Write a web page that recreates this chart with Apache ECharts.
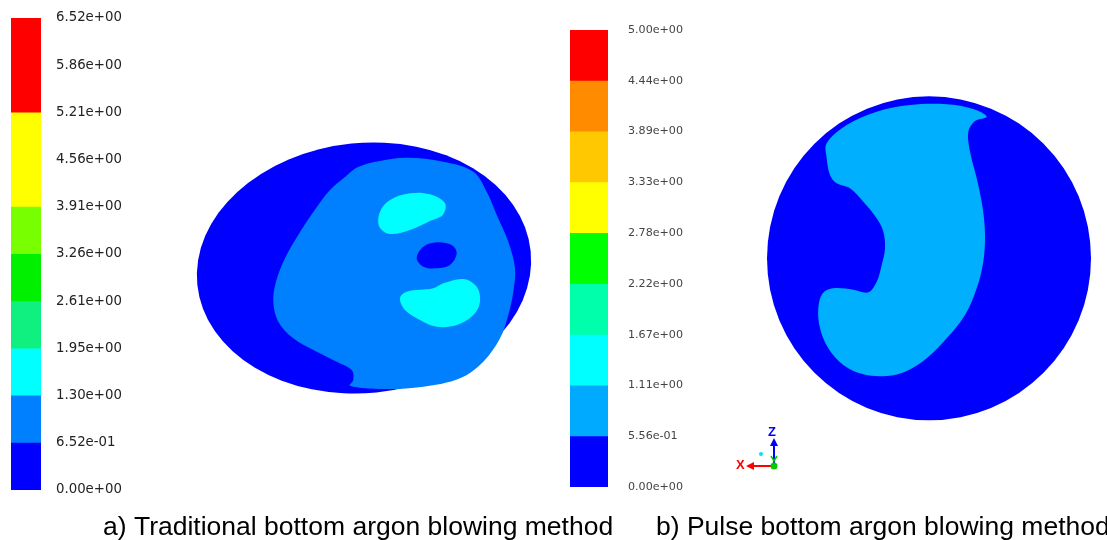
<!DOCTYPE html>
<html>
<head>
<meta charset="utf-8">
<script src="https://cdn.jsdelivr.net/npm/echarts@6/dist/echarts.min.js"></script>
<style>
html, body { margin: 0; padding: 0; background: #fff; }
#main { width: 1107px; height: 540px; }
</style>
</head>
<body>
<div id="main"></div>
<script>
// 左侧色标 (传统底吹)
var leftTickLabels = ['0.00e+00', '6.52e-01', '1.30e+00', '1.95e+00', '2.61e+00', '3.26e+00',
    '3.91e+00', '4.56e+00', '5.21e+00', '5.86e+00', '6.52e+00'];
var leftMax = 6.52;
var leftBandColors = ['#0000ff', '#0080ff', '#00ffff', '#10f080', '#00f000', '#78ff00',
    '#ffff00', '#ffff00', '#ff0000', '#ff0000'];

// 右侧色标 (脉冲底吹)
var rightTickLabels = ['0.00e+00', '5.56e-01', '1.11e+00', '1.67e+00', '2.22e+00', '2.78e+00',
    '3.33e+00', '3.89e+00', '4.44e+00', '5.00e+00'];
var rightMax = 5.0;
var rightBandColors = ['#0000ff', '#00aaff', '#00ffff', '#00ffaa', '#00ff00', '#ffff00',
    '#ffc800', '#ff8c00', '#ff0000'];

// 云图轮廓, 坐标
var leftOuter = [364, 268, 167.5, 125, 0.1];   // 中心x, 中心y, 半轴x, 半轴y, 倾角
var leftMid = [[330, 190], [345, 177], [358, 167], [380, 161], [406.7, 157.7], [443.3, 161.7],
    [473.3, 171.7], [486.7, 191.7], [496.7, 215], [508.3, 241.7], [515, 268.3], [513.3, 291.7],
    [508.3, 315], [500, 338.3], [483.3, 361.7], [460, 378.3], [423.3, 386.7], [383.3, 389],
    [350, 385.7], [353.3, 380], [351.7, 370], [336.7, 361.7], [316.7, 351.7], [293.3, 338.3],
    [278.3, 321.7], [273.3, 301.7], [276, 281.7], [285, 258.3], [297, 237], [313.3, 212]];
var leftSpot1 = [[380, 211.7], [390, 200], [410, 193.3], [430, 194.3], [445, 203.3], [442.7, 215],
    [430, 221], [410, 230], [390, 234], [379.3, 226.7]];
var leftSpot2 = [[400, 298.3], [406.7, 291.7], [433.3, 288.3], [443.3, 283.3], [463.3, 279],
    [476.7, 286.7], [480, 301.7], [473.3, 315], [456.7, 325], [436.7, 326.7], [420, 320], [405, 310]];
var leftHole = [[416.7, 258.3], [423.3, 246.7], [436.7, 242.3], [451.7, 245], [456.7, 253.3],
    [450, 265], [436.7, 268.3], [423.3, 266.7]];

var rightOuter = [929, 258.3, 162, 162, 0];
var rightMid = [[826.7, 143.3], [846.7, 125], [876.7, 111.7], [910, 105], [946.7, 104.3],
    [973.3, 109], [986.7, 116.7], [975, 121], [968.3, 131.7], [970, 151.7], [976.7, 178.3],
    [982.7, 208.3], [985, 235], [983.3, 261.7], [976.7, 288.3], [965, 315], [946.7, 338.3],
    [926.7, 358.3], [906.7, 371], [886.7, 376], [863.3, 374.3], [843.3, 365], [828.3, 348.3],
    [820, 328.3], [818.3, 308.3], [822.7, 293.3], [833.3, 288.3], [853.3, 289.7], [868.3, 292.3],
    [876.7, 281.7], [881.7, 265], [885, 248.3], [883.3, 231.7], [876.7, 218.3], [863.3, 201.7],
    [850, 188.3], [836.7, 183.3], [830, 175], [826.7, 158.3]];

var myChart = echarts.init(document.getElementById('main'));

var labelFont = '"DejaVu Sans", sans-serif';
var captionFont = 'Arial, "Liberation Sans", sans-serif';

// 色标: 每个色带画成从0到其上界的柱, 高的在下层, 避免接缝
function bandSeries(colors, max, idx) {
    var step = max / colors.length;
    return colors.map(function (c, i) {
        return {
            type: 'bar', xAxisIndex: idx, yAxisIndex: idx,
            data: [step * (i + 1)], barWidth: '100%', barGap: '-100%', silent: true,
            itemStyle: { color: c }
        };
    }).reverse();
}

function ellipseSeries(idx, e, color) {
    return {
        type: 'custom', xAxisIndex: idx, yAxisIndex: idx, silent: true,
        data: [[e[0], e[1]]],
        renderItem: function (params, api) {
            var c = api.coord([e[0], e[1]]);
            var s = api.size([e[2], e[3]]);
            return {
                type: 'circle', x: c[0], y: c[1], scaleX: s[0], scaleY: s[1], rotation: e[4],
                shape: { cx: 0, cy: 0, r: 1 }, style: { fill: color }
            };
        }
    };
}

function polySeries(idx, pts, color) {
    return {
        type: 'custom', xAxisIndex: idx, yAxisIndex: idx, silent: true,
        data: pts,
        renderItem: function (params, api) {
            if (params.dataIndex !== 0) return;
            var points = pts.map(function (p) { return api.coord(p); });
            return {
                type: 'polygon', shape: { points: points, smooth: 0.35 },
                style: { fill: color }
            };
        }
    };
}

function bandYAxis(idx, max, n, labels, margin, size, color) {
    var step = max / n;
    return {
        gridIndex: idx, type: 'value', min: 0, max: max, interval: step, position: 'right',
        axisLine: { show: false }, axisTick: { show: false }, splitLine: { show: false },
        axisLabel: {
            margin: margin, fontSize: size, color: color, fontFamily: labelFont,
            formatter: function (v) { return labels[Math.round(v / step)]; }
        }
    };
}

function hiddenAxis(idx, min, max, inverse) {
    return { gridIndex: idx, type: 'value', min: min, max: max, inverse: !!inverse, show: false };
}

var option = {
    animation: false,
    title: [{
        text: 'a) Traditional bottom argon blowing method', left: 103, top: 514, padding: 0,
        textStyle: { fontSize: 26.5, fontWeight: 'normal', color: '#000', fontFamily: captionFont }
    }, {
        text: 'b) Pulse bottom argon blowing method', left: 656, top: 514, padding: 0,
        textStyle: { fontSize: 26.5, fontWeight: 'normal', color: '#000', fontFamily: captionFont }
    }],
    grid: [
        { left: 11, top: 18, width: 30, height: 472 },
        { left: 570, top: 30, width: 38, height: 457 },
        { left: 197, top: 143, width: 335, height: 250 },
        { left: 767, top: 96, width: 325, height: 324 }
    ],
    xAxis: [
        { gridIndex: 0, type: 'category', data: ['v'], show: false },
        { gridIndex: 1, type: 'category', data: ['v'], show: false },
        hiddenAxis(2, 197, 532),
        hiddenAxis(3, 767, 1092)
    ],
    yAxis: [
        bandYAxis(0, leftMax, leftBandColors.length, leftTickLabels, 15, 13.3, '#222'),
        bandYAxis(1, rightMax, rightBandColors.length, rightTickLabels, 20, 11.1, '#444'),
        hiddenAxis(2, 143, 393, true),
        hiddenAxis(3, 96, 420, true)
    ],
    graphic: [
        // 坐标系指示
        { type: 'line', shape: { x1: 774, y1: 466, x2: 774, y2: 442 }, style: { stroke: '#0000ff', lineWidth: 2 } },
        { type: 'polygon', shape: { points: [[770, 446], [778, 446], [774, 438]] }, style: { fill: '#0000ff' } },
        { type: 'text', x: 768, y: 426, style: { text: 'Z', fill: '#0000ff', font: 'bold 13px Arial' } },
        { type: 'line', shape: { x1: 774, y1: 466, x2: 750, y2: 466 }, style: { stroke: '#ff0000', lineWidth: 2 } },
        { type: 'polygon', shape: { points: [[754, 462], [754, 470], [746, 466]] }, style: { fill: '#ff0000' } },
        { type: 'text', x: 736, y: 459, style: { text: 'X', fill: '#ff0000', font: 'bold 13px Arial' } },
        { type: 'polyline', shape: { points: [[771, 456], [774, 461], [777, 456]] }, style: { stroke: '#00cc00', lineWidth: 1.5 } },
        { type: 'circle', shape: { cx: 774, cy: 466, r: 3.5 }, style: { fill: '#00cc00' } },
        { type: 'circle', shape: { cx: 761, cy: 454, r: 2 }, style: { fill: '#00e0ff' } }
    ],
    series: [].concat(
        bandSeries(leftBandColors, leftMax, 0),
        bandSeries(rightBandColors, rightMax, 1),
        [
            ellipseSeries(2, leftOuter, '#0000ff'),
            polySeries(2, leftMid, '#0080ff'),
            polySeries(2, leftSpot1, '#00ffff'),
            polySeries(2, leftSpot2, '#00ffff'),
            polySeries(2, leftHole, '#0000ff'),
            ellipseSeries(3, rightOuter, '#0000ff'),
            polySeries(3, rightMid, '#00b0ff')
        ]
    )
};

myChart.setOption(option);
</script>
</body>
</html>
